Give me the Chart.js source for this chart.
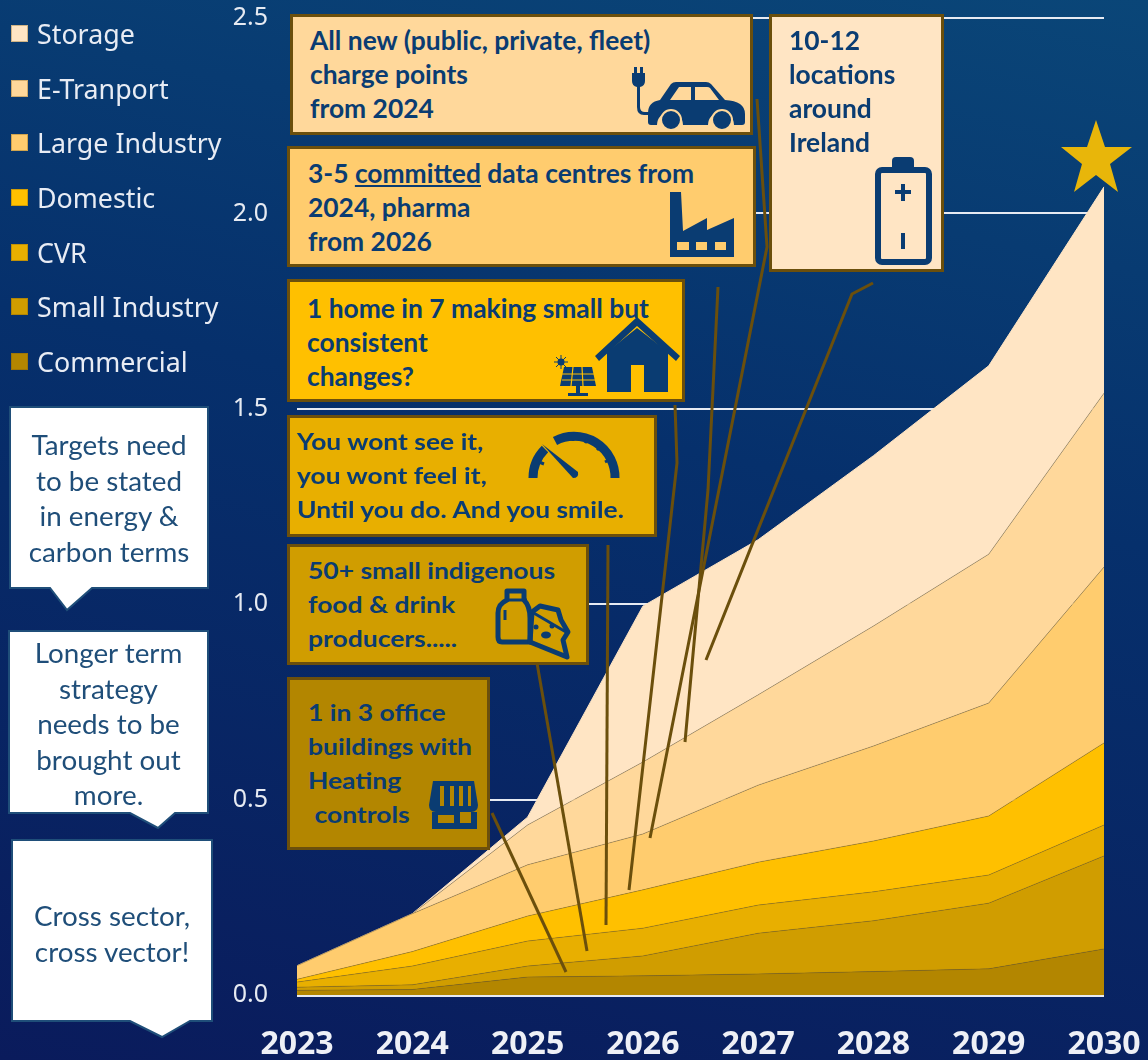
<!DOCTYPE html>
<html>
<head>
<meta charset="utf-8">
<title>Demand growth by sector</title>
<script src="https://cdn.jsdelivr.net/npm/chart.js@4"></script>
<style>
  html, body { margin: 0; padding: 0; }
  #page { position: relative; width: 1148px; height: 1060px; overflow: hidden; background: linear-gradient(12deg, #0a1b5c 0%, #06306c 58%, #0a4678 100%); font-family: Lato, sans-serif; }
  #chart, #overlay { position: absolute; left: 0; top: 0; }
  #overlay { pointer-events: none; }
  .note { position: absolute; box-sizing: border-box; border: 3px solid #6b4f0c; }
  .note p { position: absolute; margin: 0; white-space: pre; font-weight: 700; font-size: 26.4px; line-height: 34px; color: #0a3c72; transform-origin: left top; }
  .wide p { font-size: 23px; transform: scaleX(1.15); }
  .side { position: absolute; text-align: center; font-size: 27.8px; line-height: 35.5px; color: #1f4e79; }
  #legend { position: absolute; left: 11px; top: 6px; margin: 0; padding: 0; list-style: none; font-family: "Noto Sans", sans-serif; font-size: 26.8px; color: #e8ecf4; }
  #legend li { height: 54.7px; display: flex; align-items: center; }
  #legend i { width: 17px; height: 17px; margin-right: 9px; box-sizing: border-box; border: 1px solid rgba(120, 90, 20, .35); }
</style>
</head>
<body>
<div id="page">
  <canvas id="chart" width="1148" height="1060"></canvas>

  <div class="note" style="left:290px;top:14px;width:463px;height:121px;background:#ffd89b"><p style="left:17px;top:6px">All new (public, private, fleet)
charge points
from 2024</p></div>
  <div class="note" style="left:287px;top:146px;width:469px;height:121px;background:#ffcc6e"><p style="left:18px;top:7px">3-5 <u>committed</u> data centres from
2024, pharma
from 2026</p></div>
  <div class="note" style="left:287px;top:279px;width:398px;height:123px;background:#ffc000"><p style="left:17px;top:9px">1 home in 7 making small but
consistent
changes?</p></div>
  <div class="note wide" style="left:287px;top:415px;width:370px;height:122px;background:#e8af00"><p style="left:7px;top:6px">You wont see it,
you wont feel it,
Until you do. And you smile.</p></div>
  <div class="note wide" style="left:287px;top:544px;width:302px;height:121px;background:#d09d00"><p style="left:18px;top:6px">50+ small indigenous
food &amp; drink
producers.....</p></div>
  <div class="note wide" style="left:287px;top:677px;width:203px;height:173px;background:#b38600"><p style="left:18px;top:15px">1 in 3 office
buildings with
Heating
 controls</p></div>
  <div class="note" style="left:769px;top:14px;width:175px;height:258px;background:#ffe5c4"><p style="left:17px;top:6px">10-12
locations
around
Ireland</p></div>

  <svg id="overlay" width="1148" height="1060" viewBox="0 0 1148 1060">
    <!-- side callouts -->
    <g fill="#fff" stroke="#1f4e79" stroke-width="2">
      <path d="M10 407H208V588H92L67 610L50 588H10Z"/>
      <path d="M9 631H208V813H175L158 828L130 813H9Z"/>
      <path d="M12 840H212V1021H190L162 1037L130 1021H12Z"/>
    </g>
    <!-- leader lines -->
    <g fill="none" stroke="#6b4f0c" stroke-width="3">
      <polyline points="873,283 852,294 706,660"/>
      <polyline points="757,99 767,247 650,838"/>
      <polyline points="718,287 708,490 685,742"/>
      <polyline points="675,405 677,463 629,890"/>
      <polyline points="608,545 606,925"/>
      <polyline points="537,663 587,951"/>
      <polyline points="492,813 566,972"/>
    </g>
    <!-- star -->
    <polygon fill="#e8b60a" points="1096,120 1105,147 1132,147 1110,164 1118,192 1096,175 1074,192 1082,164 1061,147 1087,147"/>
    <!-- car and plug -->
    <g fill="#0a3c72">
      <path d="M634 67h3v6h3v-6h3v6h2v8q0 5 -5 6v20q0 5 5 5h6v3h-7q-7 0 -7 -8v-20q-5 -1 -5 -6v-8h2z"/>
      <path d="M648 113q0 -11 12 -13l11 -16q2 -2 5 -2h30q3 0 5 2l14 16q20 1 20 14v8q0 3 -3 3h-8a13 13 0 0 0 -26 0h-25a13 13 0 0 0 -26 0h-6q-3 0 -3 -3z"/>
      <circle cx="671" cy="120" r="10" stroke="#ffd89b" stroke-width="2"/><circle cx="722" cy="120" r="10" stroke="#ffd89b" stroke-width="2"/>
      <path fill="#ffd89b" d="M670 100l9 -13h12v13zM695 87h12q2 0 3 1l9 12h-24z"/>
    </g>
    <!-- factory -->
    <path fill="#0a3c72" d="M670 257V192H681L683 231L707 218V230L734 218V257Z"/>
    <g fill="#ffcc6e"><rect x="677" y="242" width="12" height="8"/><rect x="696" y="242" width="11" height="8"/><rect x="715" y="242" width="11" height="8"/></g>
    <!-- house and solar panel -->
    <g fill="#0a3c72">
      <path d="M595 356L637 317L680 356L676 361L637 326L599 361Z"/>
      <path d="M607 392V352L637 328L668 352V392H644V365H631V392Z"/>
      <path d="M564 367H592L596 386H560Z"/>
      <rect x="576" y="386" width="4" height="8"/><rect x="568" y="393" width="20" height="3"/>
      <circle cx="561" cy="362" r="3.5"/>
      <path d="M561 355v14M554 362h14M556 357l10 10M566 357l-10 10" stroke="#0a3c72" stroke-width="1"/>
    </g>
    <path stroke="#ffc000" stroke-width="1.2" d="M561 374H595M562 380H595M573 367L571 386M582 367L583 386" fill="none"/>
    <!-- gauge -->
    <g fill="none" stroke="#0a3c72">
      <path stroke-width="9" d="M533 478A41 41 0 0 1 545 449M555 441A41 41 0 0 1 615 478"/>
      <path stroke-width="3" d="M539 462l5 2M573 437v4M587 439l-2 4M600 447l-3 3M609 460l-4 2"/>
    </g>
    <path fill="#0a3c72" d="M542 444L578 472Q579 478 573 478Z"/>
    <!-- milk and cheese -->
    <g fill="none" stroke="#0a3c72" stroke-width="5" stroke-linejoin="round">
      <path d="M507 591H524V600Q530 606 530 618V642H502Q498 642 498 637V613Q498 604 507 600Z"/>
      <path d="M532 612L540 606L558 610L561 620L568 632L563 640L567 657L530 642Z"/>
      <path d="M532 612L566 632" stroke-width="3"/>
      <path d="M505 600H527M505 620V610" stroke-width="3"/>
    </g>
    <g fill="#0a3c72"><ellipse cx="546" cy="635" rx="5" ry="3.5"/><circle cx="536" cy="627" r="2.5"/><circle cx="552" cy="626" r="2.5"/></g>
    <!-- shop -->
    <g fill="#0a3c72">
      <path d="M433 781H474L478 805Q478 812 471 812H436Q429 812 429 805Z"/>
      <rect x="432" y="812" width="6" height="17"/><rect x="471" y="812" width="6" height="17"/><rect x="432" y="823" width="45" height="6"/>
      <rect x="438" y="812" width="16" height="3"/><rect x="454" y="812" width="6" height="17"/>
    </g>
    <g fill="#b38600"><rect x="440" y="786" width="4" height="20"/><rect x="450" y="786" width="4" height="20"/><rect x="459" y="786" width="4" height="20"/><rect x="468" y="786" width="3" height="20"/></g>
    <!-- battery -->
    <g fill="none" stroke="#0a3c72">
      <rect x="878" y="170" width="51" height="92" rx="4" stroke-width="6"/>
      <path stroke-width="4" d="M903 184v17M895 192h16"/>
      <path stroke-width="4" d="M903 233v16"/>
    </g>
    <path fill="#0a3c72" d="M892 168V161Q892 157 896 157H910Q914 157 914 161V168Z"/>
  </svg>

  <div class="side" style="left:10px;top:427px;width:198px">Targets need
<br>to be stated<br>in energy &amp;<br>carbon terms</div>
  <div class="side" style="left:9px;top:635px;width:199px">Longer term<br>strategy<br>needs to be<br>brought out<br>more.</div>
  <div class="side" style="left:12px;top:898px;width:200px">Cross sector,<br>cross vector!</div>
  <ul id="legend"></ul>
</div>

<script>
const years = ['2023', '2024', '2025', '2026', '2027', '2028', '2029', '2030'];
const yTicks = [0, 0.5, 1, 1.5, 2, 2.5];

const commercial = [0.012, 0.014, 0.046, 0.049, 0.054, 0.060, 0.067, 0.118];
const smallIndustry = [0.008, 0.012, 0.028, 0.051, 0.104, 0.130, 0.168, 0.238];
const cvr = [0.013, 0.048, 0.064, 0.071, 0.072, 0.074, 0.072, 0.079];
const domestic = [0.007, 0.037, 0.064, 0.098, 0.110, 0.130, 0.151, 0.210];
const largeIndustry = [0.035, 0.097, 0.131, 0.143, 0.197, 0.243, 0.289, 0.450];
const eTransport = [0, 0, 0.102, 0.184, 0.231, 0.307, 0.381, 0.445];
const storage = [0, 0, 0.020, 0.399, 0.397, 0.436, 0.482, 0.528];

function areaSet(label, data, color, i) {
  return {
    label, data,
    backgroundColor: color,
    borderColor: i === 6 ? color : 'rgba(110, 90, 40, .35)',
    borderWidth: 1,
    pointRadius: 0,
    tension: 0,
    fill: i === 0 ? 'origin' : '-1'
  };
}

// the tick padding would otherwise inset the plot area
function noScalePadding(s) {
  s.paddingLeft = s.paddingRight = s.paddingTop = s.paddingBottom = 0;
}

const chart = new Chart(document.getElementById('chart'), {
  type: 'line',
  data: {
    labels: years,
    datasets: [
      areaSet('Commercial', commercial, '#b38600', 0),
      areaSet('Small Industry', smallIndustry, '#d09d00', 1),
      areaSet('CVR', cvr, '#e8af00', 2),
      areaSet('Domestic', domestic, '#ffc000', 3),
      areaSet('Large Industry', largeIndustry, '#ffcc6e', 4),
      areaSet('E-Tranport', eTransport, '#ffd89b', 5),
      areaSet('Storage', storage, '#ffe5c4', 6)
    ]
  },
  options: {
    responsive: false,
    animation: false,
    layout: { padding: { top: 18, right: 44 } },
    plugins: { legend: { display: false }, tooltip: { enabled: false } },
    scales: {
      x: {
        offset: false,
        grid: { display: false },
        border: { display: false },
        ticks: { color: '#eef0f6', font: { family: 'Noto Sans', size: 32, weight: '700' }, padding: 23, maxRotation: 0, autoSkip: false },
        afterFit: s => { s.height = 65; noScalePadding(s); }
      },
      y: {
        stacked: true,
        min: 0,
        max: 2.5,
        border: { display: false },
        grid: { color: '#e6eaf2', lineWidth: c => (c.tick.value === 0 ? 3 : 2), drawTicks: false },
        ticks: { color: '#e6eaf2', font: { family: 'Noto Sans', size: 25 }, padding: 29, callback: v => v.toFixed(1) },
        afterBuildTicks: axis => { axis.ticks = yTicks.map(value => ({ value })); },
        afterFit: s => { s.width = 297; noScalePadding(s); }
      }
    }
  }
});

// legend runs top to bottom in reverse stack order
document.getElementById('legend').innerHTML = [...chart.data.datasets].reverse().map(d =>
  `<li><i style="background:${d.backgroundColor}"></i>${d.label}</li>`).join('');
</script>
</body>
</html>
